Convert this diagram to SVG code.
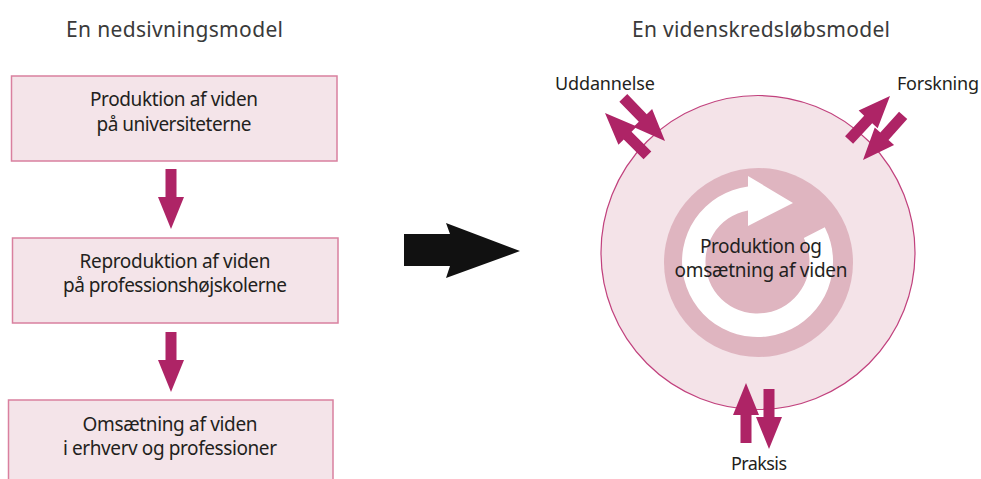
<svg xmlns="http://www.w3.org/2000/svg" xmlns:xlink="http://www.w3.org/1999/xlink" width="981" height="479" viewBox="0 0 981 479">
  <defs>
    <style>
      text { font-family: "Noto Sans", "Open Sans", "Liberation Sans", sans-serif; fill: #231f20; }
      .title { font-size: 21px; fill: #3a3a3a; }
      .body { font-size: 19px; text-anchor: middle; }
      .lbl { font-size: 18px; }
      .box { fill: #f4e4e9; stroke: #d9809f; stroke-width: 1.5; }
      .arr { fill: #ae2466; }
    </style>
    <path id="arrow" d="M-60,-5.5 H-32 V-13 L0,0 L-32,13 V5.5 H-60 Z"/>
  </defs>
  <rect width="981" height="479" fill="#ffffff"/>

  <text class="title" x="66" y="37" textLength="217">En nedsivningsmodel</text>
  <text class="title" x="632" y="37" textLength="258">En videnskredsløbsmodel</text>

  <g id="box-produktion">
    <rect class="box" x="11.5" y="76" width="325.5" height="85"/>
    <text class="body" x="174" y="106" textLength="168">Produktion af viden</text>
    <text class="body" x="174" y="131" textLength="155">på universiteterne</text>
  </g>
  <g id="box-reproduktion">
    <rect class="box" x="12.5" y="238" width="325.5" height="85"/>
    <text class="body" x="175" y="268" textLength="191">Reproduktion af viden</text>
    <text class="body" x="175" y="292" textLength="224">på professionshøjskolerne</text>
  </g>
  <g id="box-omsaetning">
    <rect class="box" x="8.5" y="400" width="324.5" height="90"/>
    <text class="body" x="170" y="431" textLength="175">Omsætning af viden</text>
    <text class="body" x="170" y="455" textLength="214">i erhverv og professioner</text>
  </g>

  <g id="big-arrow">
    <polygon points="404,234 450,234 446,223 520,251 446,278 450,266 404,266" fill="#111111"/>
  </g>

  <g id="cycle">
    <circle cx="758" cy="252.5" r="157" fill="#f4e3e8" stroke="#c1417d" stroke-width="1.2"/>
    <circle cx="758.5" cy="262.5" r="94.5" fill="#dfb5c0"/>
    <path fill="#ffffff" d="M824.8,227.2 A75.5,75.5 0 1 1 748,186.6 L748,176 L793,203 L748,226 L748,210.4 A52,52 0 1 0 803.8,237.9 Z"/>
    <text class="body" x="761" y="253" textLength="122">Produktion og</text>
    <text class="body" x="761" y="277" textLength="173">omsætning af viden</text>
  </g>

  <g id="label-uddannelse">
    <text class="lbl" x="555" y="90" textLength="100">Uddannelse</text>
  </g>
  <g id="label-forskning">
    <text class="lbl" x="897" y="90" textLength="82">Forskning</text>
  </g>
  <g id="label-praksis">
    <text class="lbl" x="731" y="470" textLength="56">Praksis</text>
  </g>

  <g id="connectors" class="arr">
    <use xlink:href="#arrow" href="#arrow" transform="translate(171,229) rotate(90)"/>
    <use xlink:href="#arrow" href="#arrow" transform="translate(171,392) rotate(90)"/>
    <use xlink:href="#arrow" href="#arrow" transform="translate(665,141) rotate(46)"/>
    <use xlink:href="#arrow" href="#arrow" transform="translate(605,113) rotate(225)"/>
    <use xlink:href="#arrow" href="#arrow" transform="translate(890,96) rotate(-47)"/>
    <use xlink:href="#arrow" href="#arrow" transform="translate(863,160) rotate(132)"/>
    <use xlink:href="#arrow" href="#arrow" transform="translate(746,383) rotate(-90)"/>
    <use xlink:href="#arrow" href="#arrow" transform="translate(769,449) rotate(90)"/>
  </g>
</svg>
